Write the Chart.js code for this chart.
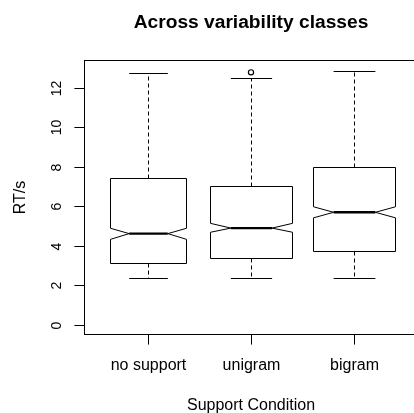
<!DOCTYPE html>
<html>
<head>
<meta charset="utf-8">
<title>Across variability classes</title>
<script src="https://cdn.jsdelivr.net/npm/chart.js@4.4.1/dist/chart.umd.min.js"></script>
<style>
  html, body { margin: 0; padding: 0; background: #fff; overflow: hidden; }
  #wrap { width: 414px; height: 413px; }
</style>
</head>
<body>
<div id="wrap"><canvas id="boxChart" width="414" height="413"></canvas></div>
<script>
/* data */
const categories = ["no support", "unigram", "bigram"];
const lowerWhisker = [2.36, 2.36, 2.36];
const q1 = [3.13, 3.39, 3.74];
const median = [4.62, 4.90, 5.70];
const q3 = [7.42, 7.05, 7.99];
const upperWhisker = [12.78, 12.49, 12.88];
const notchLow = [4.33, 4.69, 5.42];
const notchHigh = [4.89, 5.14, 5.98];
const outliers = [[], [12.79], []];
const yTicks = [0, 2, 4, 6, 8, 10, 12];

/* look */
const FONT = '"Liberation Sans", Arial, Helvetica, sans-serif';
const boxWidths = [0.75, 0.8, 0.81]; // varwidth-ish boxes
const TICK_LEN = 9.6;
const PLOT_LEFT = 84;
const X_MIN = 0.38;
const X_MAX_FULL = 3.62; // the plot region runs a few px past the canvas edge
const PX_PER_X = 103.09;
const X_MAX_VISIBLE = X_MIN + (414 - PLOT_LEFT) / PX_PER_X;

const outlierPoints = [];
outliers.forEach((vals, i) => {
  vals.forEach((v) => outlierPoints.push({ x: i + 1, y: v }));
});

/* draws the notched boxes, axes and texts from the chart scales */
const boxPlotPlugin = {
  id: "boxPlot",
  afterDatasetsDraw(chart) {
    const { ctx, chartArea, scales } = chart;
    const xs = scales.x;
    const ys = scales.y;
    const { left, top, bottom } = chartArea;
    const right = xs.getPixelForValue(X_MAX_FULL);

    ctx.save();
    ctx.strokeStyle = "#000";
    ctx.fillStyle = "#000";
    ctx.lineWidth = 1;

    categories.forEach((cat, i) => {
      const c = Math.round(xs.getPixelForValue(i + 1)) + 0.5;
      const half = xs.getPixelForValue(i + 1 + boxWidths[i] / 2) - xs.getPixelForValue(i + 1);
      const yQ1 = Math.round(ys.getPixelForValue(q1[i])) + 0.5;
      const yQ3 = Math.round(ys.getPixelForValue(q3[i])) + 0.5;
      const yMed = ys.getPixelForValue(median[i]);
      const yNL = ys.getPixelForValue(notchLow[i]);
      const yNH = ys.getPixelForValue(notchHigh[i]);
      const yLo = Math.round(ys.getPixelForValue(lowerWhisker[i])) + 0.5;
      const yHi = Math.round(ys.getPixelForValue(upperWhisker[i])) + 0.5;
      const l = Math.round(c - half) + 0.5;
      const r = Math.round(c + half) - 0.5;

      /* whiskers */
      ctx.setLineDash([4, 3]);
      ctx.beginPath();
      ctx.moveTo(c, yQ3);
      ctx.lineTo(c, yHi);
      ctx.moveTo(c, yQ1);
      ctx.lineTo(c, yLo);
      ctx.stroke();
      ctx.setLineDash([]);

      /* staples */
      ctx.beginPath();
      ctx.moveTo(c - half / 2, yHi);
      ctx.lineTo(c + half / 2, yHi);
      ctx.moveTo(c - half / 2, yLo);
      ctx.lineTo(c + half / 2, yLo);
      ctx.stroke();

      /* notched box */
      ctx.beginPath();
      ctx.moveTo(l, yQ1);
      ctx.lineTo(l, yNL);
      ctx.lineTo(c - half / 2, yMed);
      ctx.lineTo(l, yNH);
      ctx.lineTo(l, yQ3);
      ctx.lineTo(r, yQ3);
      ctx.lineTo(r, yNH);
      ctx.lineTo(c + half / 2, yMed);
      ctx.lineTo(r, yNL);
      ctx.lineTo(r, yQ1);
      ctx.closePath();
      ctx.stroke();

      /* median */
      ctx.lineWidth = 2.4;
      ctx.beginPath();
      ctx.moveTo(c - half / 2, yMed);
      ctx.lineTo(c + half / 2, yMed);
      ctx.stroke();
      ctx.lineWidth = 1;

      /* x tick + label */
      ctx.beginPath();
      ctx.moveTo(c, bottom);
      ctx.lineTo(c, bottom + TICK_LEN);
      ctx.stroke();
      ctx.font = "16px " + FONT;
      ctx.textAlign = "center";
      ctx.textBaseline = "alphabetic";
      ctx.fillText(cat, c, 370);
    });

    /* frame */
    ctx.strokeRect(left + 0.5, top + 0.5, right - left - 1, bottom - top - 1);

    /* y ticks */
    ctx.font = "14px " + FONT;
    yTicks.forEach((v) => {
      const y = Math.round(ys.getPixelForValue(v)) + 0.5;
      ctx.beginPath();
      ctx.moveTo(left - TICK_LEN, y);
      ctx.lineTo(left, y);
      ctx.stroke();
      ctx.save();
      ctx.translate(61, y);
      ctx.rotate(-Math.PI / 2);
      ctx.textAlign = "center";
      ctx.fillText(String(v), 0, 0);
      ctx.restore();
    });

    /* titles */
    const mid = (left + right) / 2;
    ctx.textAlign = "center";
    ctx.font = "bold 19.2px " + FONT;
    ctx.fillText("Across variability classes", mid, 28);
    ctx.font = "16px " + FONT;
    ctx.fillText("Support Condition", mid, 410);
    ctx.save();
    ctx.translate(25, (top + bottom) / 2);
    ctx.rotate(-Math.PI / 2);
    ctx.fillText("RT/s", 0, 0);
    ctx.restore();

    ctx.restore();
  },
};

document.addEventListener("DOMContentLoaded", () => {
  const ctx = document.getElementById("boxChart");
  new Chart(ctx, {
    type: "scatter",
    data: {
      datasets: [
        {
          label: "outliers",
          data: outlierPoints,
          pointStyle: "circle",
          pointRadius: 2.6,
          borderColor: "#000",
          backgroundColor: "rgba(0,0,0,0)",
          borderWidth: 1.2,
        },
      ],
    },
    options: {
      responsive: false,
      animation: false,
      devicePixelRatio: 1,
      layout: {
        autoPadding: false,
        padding: { left: PLOT_LEFT, top: 60, right: 0, bottom: 78 },
      },
      scales: {
        x: { type: "linear", min: X_MIN, max: X_MAX_VISIBLE, display: false },
        y: { type: "linear", min: -0.516, max: 13.416, display: false },
      },
      plugins: {
        legend: { display: false },
        tooltip: { enabled: false },
      },
    },
    plugins: [boxPlotPlugin],
  });
});
</script>
</body>
</html>
